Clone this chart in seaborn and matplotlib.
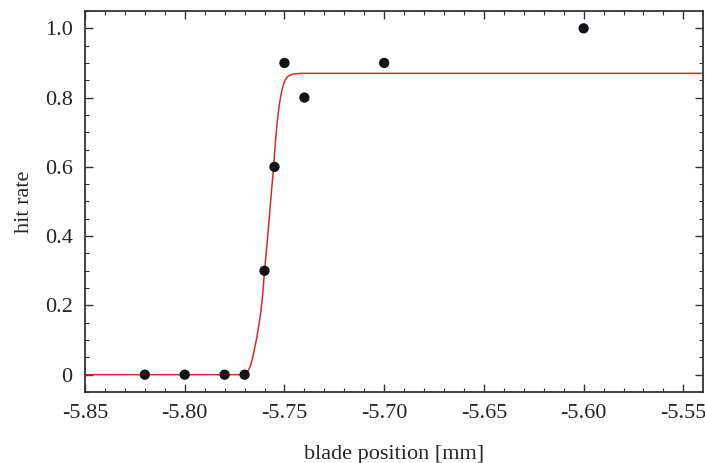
import matplotlib
matplotlib.use("Agg")
import matplotlib.pyplot as plt
import seaborn as sns
import pandas as pd
from matplotlib.ticker import MultipleLocator, FuncFormatter

# measured data
blade_pos = [-5.82, -5.80, -5.78, -5.77, -5.76, -5.755, -5.75, -5.74, -5.70, -5.60]
hit_rate = [0.0, 0.0, 0.0, 0.0, 0.3, 0.6, 0.9, 0.8, 0.9, 1.0]

# fitted curve
fit_x = [-5.85, -5.80, -5.7712, -5.7700, -5.7690, -5.7680, -5.7670, -5.7660,
         -5.7650, -5.7640, -5.7630, -5.7620, -5.7610, -5.7600, -5.7587,
         -5.7575, -5.7565, -5.7554, -5.7545, -5.7536, -5.7528, -5.7520,
         -5.7512, -5.7504, -5.7495, -5.7485, -5.7472, -5.7455, -5.7430,
         -5.7400, -5.70, -5.60, -5.5403]
fit_y = [0.0, 0.0, 0.0, 0.002, 0.006, 0.013, 0.027, 0.048,
         0.075, 0.103, 0.137, 0.175, 0.225, 0.300, 0.380,
         0.460, 0.530, 0.600, 0.675, 0.730, 0.770, 0.800,
         0.823, 0.840, 0.852, 0.860, 0.865, 0.868, 0.8695,
         0.870, 0.870, 0.870, 0.870]

x_ticks = [-5.85, -5.80, -5.75, -5.70, -5.65, -5.60, -5.55]
y_ticks = [0.0, 0.2, 0.4, 0.6, 0.8, 1.0]

sns.set_theme(style="ticks")
plt.rcParams["font.family"] = ["Liberation Serif", "DejaVu Serif"]
plt.rcParams["axes.unicode_minus"] = False

fig = plt.figure(figsize=(7.05, 4.63), dpi=100)
ax = fig.add_axes([85 / 705, 1 - 392 / 463, (702.7 - 85) / 705, (392 - 11) / 463])

df_fit = pd.DataFrame({"x": fit_x, "y": fit_y})
df_pts = pd.DataFrame({"x": blade_pos, "y": hit_rate})

sns.lineplot(data=df_fit, x="x", y="y", ax=ax, color="#d42a2a", linewidth=1.1,
             sort=False, estimator=None)
sns.scatterplot(data=df_pts, x="x", y="y", ax=ax, color="#141418", s=55,
                edgecolor="none", zorder=5)

ax.set_xlim(-5.85, -5.5403)
ax.set_ylim(-0.05, 1.05)
ax.set_xticks(x_ticks)
ax.set_yticks(y_ticks)
ax.xaxis.set_minor_locator(MultipleLocator(0.01))
ax.yaxis.set_minor_locator(MultipleLocator(0.05))
ax.xaxis.set_major_formatter(FuncFormatter(lambda v, p: f"{v:.2f}"))
ax.yaxis.set_major_formatter(FuncFormatter(lambda v, p: "0" if abs(v) < 1e-9 else f"{v:.1f}"))

ax.tick_params(which="both", direction="in", top=True, right=True, color="#333333")
ax.tick_params(which="major", length=6, width=1.0, labelsize=16, pad=9)
ax.tick_params(which="minor", length=3, width=0.8)
for s in ax.spines.values():
    s.set_color("#333333")
    s.set_linewidth(1.3)

ax.set_xlabel("blade position [mm]", fontsize=16, labelpad=15.5)
ax.set_ylabel("hit rate", fontsize=16, labelpad=8)

fig.savefig("out.png", dpi=100)
